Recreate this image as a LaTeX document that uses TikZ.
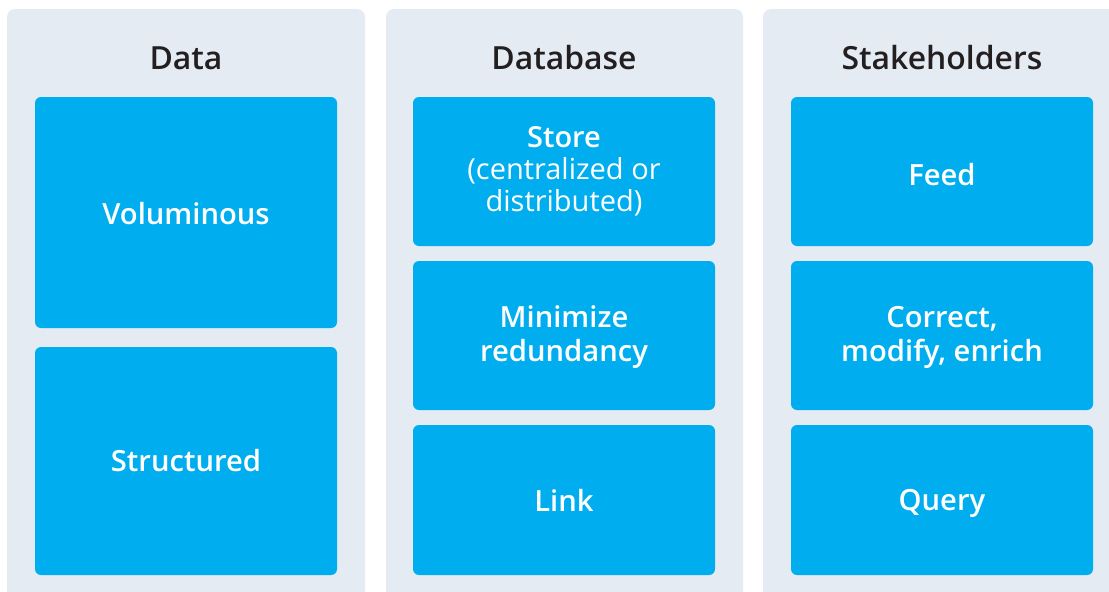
\documentclass[tikz,border=0pt]{standalone}
\usepackage{fontspec}
\IfFontExistsTF{Open Sans Semibold}{%
  \setmainfont{Open Sans}[BoldFont={Open Sans Semibold}]}{%
  \IfFontExistsTF{Open Sans SemiBold}{%
    \setmainfont{Open Sans}[BoldFont={Open Sans SemiBold}]}{%
    \setmainfont{Open Sans}}}
\definecolor{panelgray}{HTML}{E4EBF2}
\definecolor{boxblue}{HTML}{00AEEF}
\definecolor{titledark}{HTML}{231F20}
\begin{document}
\begin{tikzpicture}[x=1pt,y=-1pt,
  panel/.style={fill=panelgray,rounded corners=8pt},
  bluebox/.style={fill=boxblue,rounded corners=6pt},
  boxtext/.style={text=white,align=center,anchor=base,inner sep=0pt,font=\fontsize{29.2}{34}\selectfont\bfseries},
  title/.style={text=titledark,anchor=base,inner sep=0pt,font=\fontsize{31.9}{36}\selectfont\bfseries}]
\clip (0,0) rectangle (1109,592);
\useasboundingbox (0,0) rectangle (1109,592);
% panels
\fill[panel] (7,9) rectangle (365,620);
\fill[panel] (386,9) rectangle (743,620);
\fill[panel] (763,9) rectangle (1125,620);
% titles
\node[title] (tData) at (186,69.5) {Data};
\node[title] (tDb) at (564,69.5) {Database};
\node[title] (tSh) at (942,69.5) {Stakeholders};
% column 1
\fill[bluebox] (35,97) rectangle (337,328);
\node[boxtext] (vol) at (186,224.5) {Voluminous};
\fill[bluebox] (35,347) rectangle (337,575);
\node[boxtext] (str) at (186,471.5) {Structured};
% column 2
\fill[bluebox] (413,97) rectangle (715,246);
\node[boxtext,font=\fontsize{29}{32}\selectfont] (store) at (564,211) {\textbf{Store}\\(centralized or\\distributed)};
\fill[bluebox] (413,261) rectangle (715,410);
\node[boxtext] (min) at (564,361) {Minimize\\redundancy};
\fill[bluebox] (413,425) rectangle (715,575);
\node[boxtext] (link) at (564,511) {Link};
% column 3
\fill[bluebox] (791,97) rectangle (1093,246);
\node[boxtext] (feed) at (942,185) {Feed};
\fill[bluebox] (791,261) rectangle (1093,410);
\node[boxtext] (corr) at (942,361) {Correct,\\modify, enrich};
\fill[bluebox] (791,425) rectangle (1093,575);
\node[boxtext] (query) at (942,510.5) {Query};
\end{tikzpicture}
\end{document}
